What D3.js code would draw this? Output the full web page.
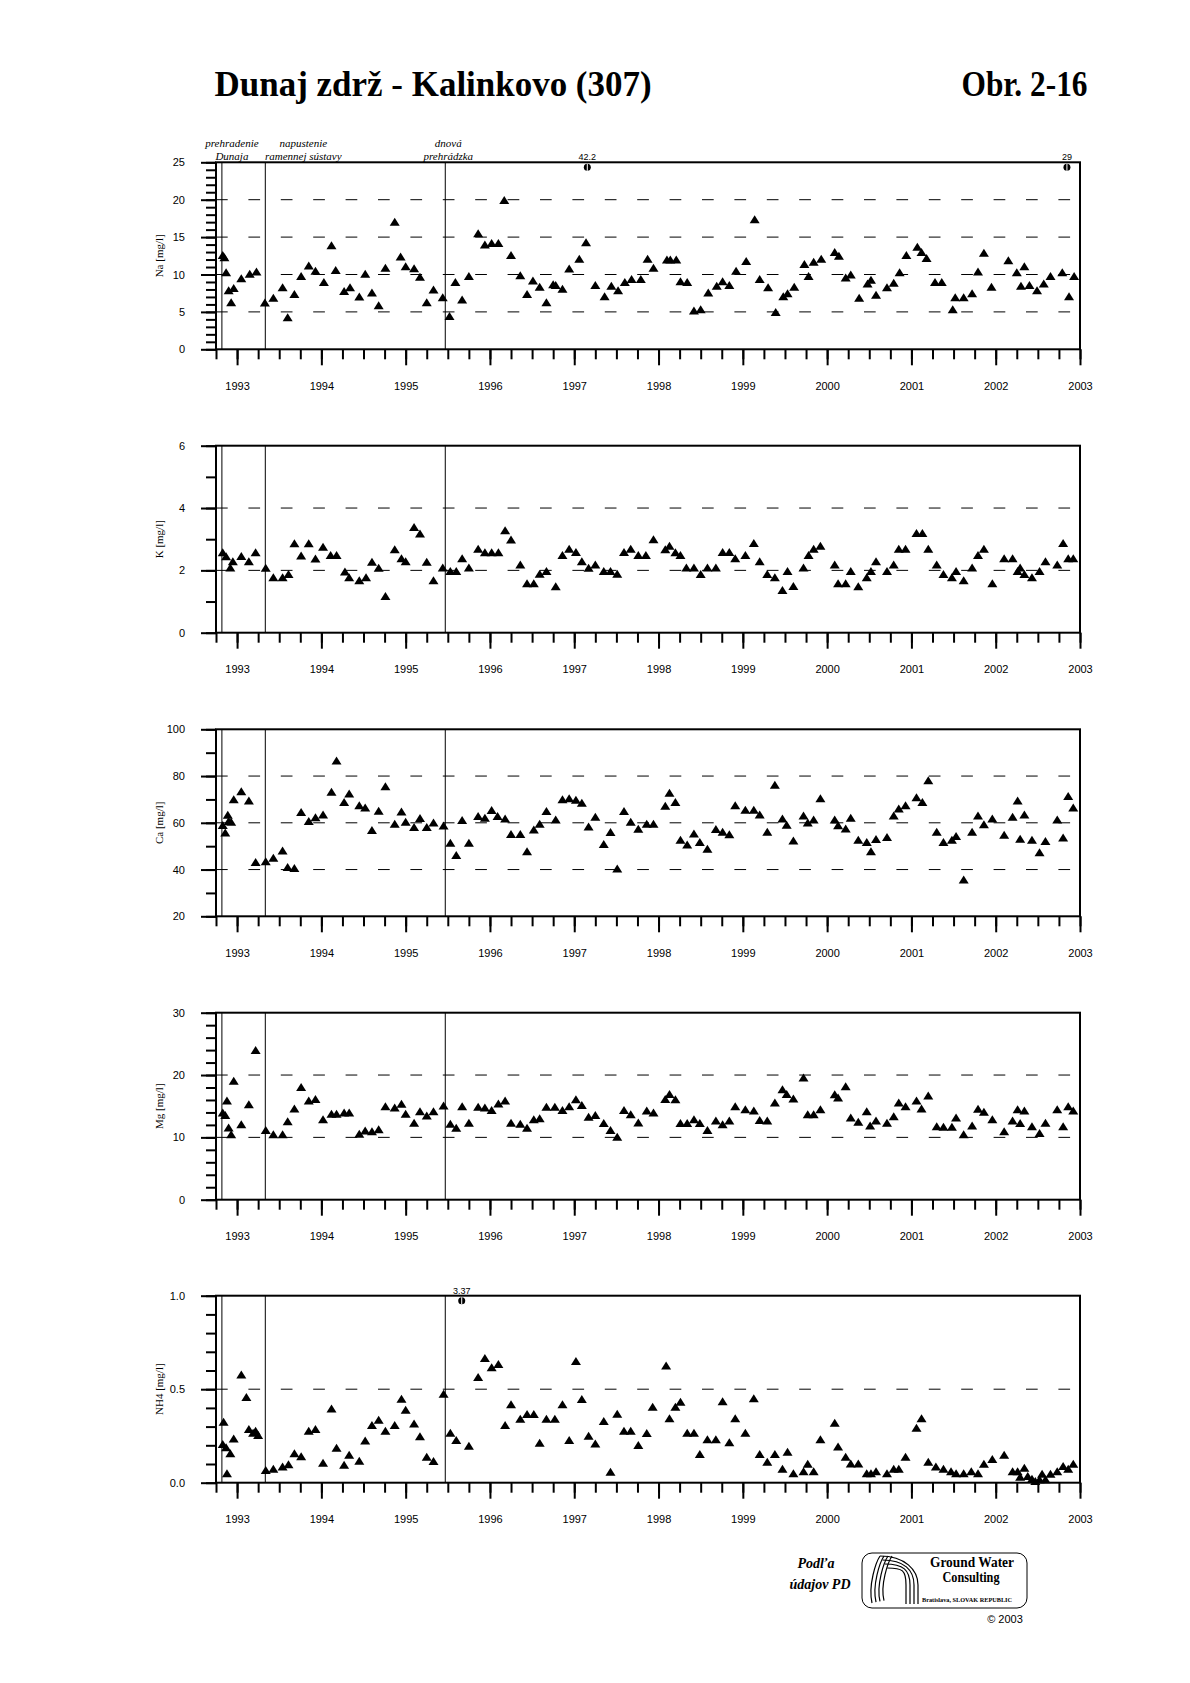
<!DOCTYPE html>
<html><head><meta charset="utf-8">
<script src="https://cdn.jsdelivr.net/npm/d3@7"></script>
<style>body{margin:0;background:#fff}</style>
</head><body><svg id="c" width="1190" height="1683"></svg>
<script>
// ---------- DATA (decimal year, value) ----------
const naData = [[1992.83,12.6],[1992.85,12.3],[1992.87,10.3],[1992.90,7.9],[1992.93,6.3],[1992.96,8.2],[1993.05,9.5],[1993.15,10.1],[1993.23,10.4],[1993.33,6.25],[1993.43,6.9],[1993.54,8.3],[1993.60,4.3],[1993.68,7.4],[1993.76,9.8],[1993.85,11.2],[1993.93,10.5],[1994.03,9.0],[1994.12,13.9],[1994.17,10.6],[1994.27,7.8],[1994.34,8.3],[1994.45,7.05],[1994.52,10.1],[1994.60,7.6],[1994.68,5.9],[1994.76,10.9],[1994.87,17.05],[1994.94,12.4],[1995.00,11.1],[1995.10,10.85],[1995.17,9.7],[1995.25,6.3],[1995.33,8.0],[1995.44,6.96],[1995.52,4.46],[1995.59,9.0],[1995.67,6.65],[1995.75,9.8],[1995.86,15.5],[1995.94,14.0],[1996.02,14.2],[1996.10,14.2],[1996.17,19.95],[1996.25,12.6],[1996.36,9.9],[1996.44,7.4],[1996.51,9.2],[1996.59,8.35],[1996.67,6.3],[1996.75,8.7],[1996.78,8.6],[1996.86,8.1],[1996.94,10.8],[1997.06,12.1],[1997.14,14.3],[1997.25,8.6],[1997.36,7.1],[1997.44,8.5],[1997.52,7.9],[1997.60,9.0],[1997.68,9.4],[1997.79,9.4],[1997.87,12.1],[1997.94,10.9],[1998.10,12.0],[1998.14,12.0],[1998.21,12.0],[1998.26,9.1],[1998.34,9.0],[1998.42,5.2],[1998.50,5.36],[1998.59,7.6],[1998.69,8.5],[1998.76,9.1],[1998.84,8.6],[1998.92,10.5],[1999.04,11.8],[1999.14,17.4],[1999.20,9.4],[1999.30,8.3],[1999.39,5.0],[1999.48,7.1],[1999.53,7.5],[1999.61,8.35],[1999.73,11.4],[1999.78,9.8],[1999.84,11.7],[1999.93,12.1],[2000.09,13.0],[2000.14,12.5],[2000.22,9.6],[2000.28,10.0],[2000.38,6.9],[2000.48,8.8],[2000.52,9.3],[2000.58,7.3],[2000.71,8.3],[2000.79,8.9],[2000.86,10.3],[2000.94,12.6],[2001.07,13.7],[2001.12,13.0],[2001.18,12.2],[2001.28,9.0],[2001.36,9.0],[2001.49,5.36],[2001.52,6.96],[2001.62,6.96],[2001.72,7.5],[2001.79,10.4],[2001.86,12.9],[2001.95,8.35],[2002.15,11.9],[2002.25,10.3],[2002.30,8.5],[2002.34,11.1],[2002.40,8.6],[2002.49,7.9],[2002.57,8.8],[2002.65,9.8],[2002.79,10.3],[2002.87,7.1],[2002.93,9.8]];
const naOutliers = [[1997.155,42.2],[2002.845,29]];

const kData = [[1992.83,2.58],[1992.87,2.45],[1992.92,2.09],[1992.95,2.29],[1993.05,2.46],[1993.14,2.29],[1993.22,2.58],[1993.34,2.08],[1993.43,1.78],[1993.54,1.78],[1993.61,1.88],[1993.68,2.87],[1993.76,2.48],[1993.85,2.87],[1993.93,2.38],[1994.02,2.76],[1994.11,2.49],[1994.18,2.49],[1994.28,1.96],[1994.33,1.78],[1994.45,1.68],[1994.53,1.78],[1994.60,2.28],[1994.68,2.08],[1994.76,1.18],[1994.87,2.68],[1994.95,2.39],[1995.00,2.29],[1995.10,3.39],[1995.17,3.18],[1995.25,2.28],[1995.33,1.68],[1995.44,2.09],[1995.53,1.98],[1995.60,1.98],[1995.67,2.39],[1995.75,2.09],[1995.86,2.69],[1995.94,2.58],[1996.02,2.58],[1996.10,2.58],[1996.18,3.29],[1996.25,2.99],[1996.36,2.19],[1996.44,1.59],[1996.52,1.59],[1996.59,1.89],[1996.67,1.98],[1996.78,1.49],[1996.86,2.49],[1996.94,2.69],[1997.02,2.59],[1997.09,2.29],[1997.17,2.08],[1997.25,2.19],[1997.35,1.98],[1997.43,1.98],[1997.51,1.89],[1997.59,2.59],[1997.67,2.69],[1997.76,2.49],[1997.85,2.49],[1997.94,3.0],[1998.08,2.68],[1998.13,2.79],[1998.20,2.58],[1998.26,2.49],[1998.33,2.09],[1998.42,2.09],[1998.50,1.88],[1998.58,2.09],[1998.68,2.09],[1998.76,2.59],[1998.84,2.59],[1998.91,2.39],[1999.03,2.49],[1999.13,2.88],[1999.20,2.29],[1999.29,1.88],[1999.38,1.78],[1999.47,1.37],[1999.53,1.98],[1999.60,1.5],[1999.72,2.09],[1999.78,2.49],[1999.84,2.69],[1999.92,2.79],[2000.09,2.19],[2000.13,1.59],[2000.22,1.59],[2000.28,1.98],[2000.37,1.49],[2000.47,1.78],[2000.52,1.98],[2000.58,2.29],[2000.71,1.98],[2000.79,2.19],[2000.85,2.69],[2000.93,2.69],[2001.06,3.2],[2001.13,3.2],[2001.20,2.69],[2001.30,2.19],[2001.38,1.88],[2001.48,1.78],[2001.53,1.98],[2001.62,1.68],[2001.72,2.09],[2001.79,2.49],[2001.86,2.69],[2001.96,1.59],[2002.10,2.39],[2002.20,2.39],[2002.26,1.98],[2002.29,2.09],[2002.34,1.88],[2002.43,1.78],[2002.52,1.98],[2002.59,2.29],[2002.73,2.19],[2002.80,2.88],[2002.86,2.39],[2002.92,2.39]];

const caData = [[1992.83,59.1],[1992.86,55.8],[1992.89,63.4],[1992.90,60.8],[1992.93,60.5],[1992.96,70.1],[1993.05,73.5],[1993.14,69.5],[1993.22,43.2],[1993.34,43.5],[1993.43,45.1],[1993.54,48.1],[1993.60,41.1],[1993.68,40.7],[1993.76,64.6],[1993.85,60.8],[1993.93,62.4],[1994.02,63.5],[1994.12,73.3],[1994.18,86.6],[1994.27,68.9],[1994.33,72.5],[1994.45,67.5],[1994.52,66.5],[1994.60,56.9],[1994.68,65.2],[1994.76,75.6],[1994.87,59.6],[1994.95,64.8],[1995.00,60.5],[1995.10,58.2],[1995.17,62.1],[1995.25,58.2],[1995.33,60.1],[1995.45,58.8],[1995.53,51.5],[1995.60,46.2],[1995.67,61.2],[1995.75,51.5],[1995.86,62.9],[1995.94,62.2],[1996.02,65.5],[1996.09,62.9],[1996.18,61.8],[1996.25,55.2],[1996.36,55.2],[1996.44,47.8],[1996.52,57.1],[1996.59,59.6],[1996.67,65.1],[1996.78,61.4],[1996.86,70.1],[1996.94,70.5],[1997.02,69.9],[1997.09,68.6],[1997.17,58.4],[1997.25,62.6],[1997.35,50.9],[1997.43,56.1],[1997.51,40.4],[1997.59,65.1],[1997.67,60.5],[1997.76,57.5],[1997.86,59.6],[1997.94,59.6],[1998.08,67.3],[1998.13,72.9],[1998.20,68.9],[1998.26,52.7],[1998.34,50.7],[1998.42,55.4],[1998.49,51.8],[1998.58,48.9],[1998.68,57.4],[1998.76,56.2],[1998.84,55.1],[1998.91,67.5],[1999.03,65.6],[1999.13,65.6],[1999.20,63.6],[1999.29,56.2],[1999.38,76.3],[1999.47,61.8],[1999.52,59.2],[1999.60,52.4],[1999.72,63.1],[1999.77,60.1],[1999.84,61.4],[1999.92,70.5],[2000.09,61.4],[2000.13,58.9],[2000.22,57.6],[2000.28,62.2],[2000.37,52.7],[2000.47,51.8],[2000.52,47.8],[2000.58,53.1],[2000.71,53.9],[2000.79,63.1],[2000.85,66.1],[2000.93,67.5],[2001.06,70.9],[2001.13,68.9],[2001.20,78.2],[2001.30,56.2],[2001.38,51.8],[2001.48,52.7],[2001.53,54.4],[2001.62,35.7],[2001.72,56.2],[2001.79,63.1],[2001.86,59.4],[2001.96,61.8],[2002.10,54.9],[2002.20,62.6],[2002.26,69.5],[2002.29,53.2],[2002.34,63.6],[2002.43,52.7],[2002.52,47.4],[2002.59,52.2],[2002.73,61.4],[2002.80,53.7],[2002.86,71.5],[2002.92,66.5]];

const mgData = [[1992.83,14.0],[1992.86,13.6],[1992.88,15.9],[1992.90,11.6],[1992.93,10.5],[1992.96,19.1],[1993.05,12.1],[1993.14,15.3],[1993.22,24.0],[1993.34,11.2],[1993.43,10.5],[1993.54,10.5],[1993.60,12.6],[1993.68,14.65],[1993.76,18.1],[1993.85,15.9],[1993.93,16.15],[1994.02,12.9],[1994.12,13.8],[1994.18,13.8],[1994.27,14.0],[1994.33,14.0],[1994.45,10.6],[1994.52,11.1],[1994.60,11.0],[1994.68,11.3],[1994.76,15.0],[1994.87,14.8],[1994.95,15.4],[1995.00,13.8],[1995.10,12.35],[1995.17,14.2],[1995.25,13.5],[1995.33,14.2],[1995.45,15.1],[1995.53,12.2],[1995.60,11.55],[1995.67,15.0],[1995.75,12.35],[1995.86,14.9],[1995.94,14.8],[1996.02,14.4],[1996.10,15.45],[1996.18,15.9],[1996.25,12.35],[1996.36,12.2],[1996.44,11.55],[1996.52,12.9],[1996.59,13.05],[1996.67,14.9],[1996.77,14.9],[1996.86,14.4],[1996.94,15.0],[1997.02,16.1],[1997.09,15.2],[1997.17,13.3],[1997.25,13.6],[1997.35,12.3],[1997.43,11.2],[1997.51,10.1],[1997.59,14.4],[1997.67,13.7],[1997.76,12.4],[1997.86,14.3],[1997.94,14.0],[1998.08,16.15],[1998.13,16.95],[1998.20,16.1],[1998.26,12.3],[1998.34,12.3],[1998.42,12.9],[1998.49,12.3],[1998.58,11.2],[1998.68,12.7],[1998.76,12.1],[1998.84,12.7],[1998.91,15.0],[1999.03,14.5],[1999.13,14.3],[1999.20,12.8],[1999.29,12.7],[1999.38,15.6],[1999.47,17.7],[1999.52,16.95],[1999.60,16.25],[1999.72,19.6],[1999.77,13.7],[1999.84,13.7],[1999.92,14.5],[2000.09,16.9],[2000.13,16.4],[2000.22,18.2],[2000.28,13.2],[2000.37,12.5],[2000.47,14.2],[2000.51,11.9],[2000.58,12.7],[2000.71,12.35],[2000.79,13.4],[2000.85,15.6],[2000.93,15.0],[2001.06,15.9],[2001.12,14.65],[2001.20,16.7],[2001.30,11.8],[2001.38,11.7],[2001.48,11.7],[2001.53,13.2],[2001.62,10.5],[2001.72,11.9],[2001.79,14.6],[2001.86,14.1],[2001.96,12.9],[2002.10,11.0],[2002.20,12.7],[2002.26,14.5],[2002.29,12.3],[2002.34,14.3],[2002.43,11.8],[2002.52,10.7],[2002.59,12.35],[2002.73,14.5],[2002.80,11.8],[2002.86,15.0],[2002.92,14.3]];

const nh4Data = [[1992.83,0.207],[1992.84,0.326],[1992.87,0.189],[1992.88,0.05],[1992.92,0.157],[1992.96,0.237],[1993.05,0.578],[1993.11,0.458],[1993.14,0.287],[1993.19,0.267],[1993.22,0.278],[1993.25,0.255],[1993.34,0.068],[1993.43,0.075],[1993.54,0.087],[1993.61,0.098],[1993.68,0.157],[1993.76,0.141],[1993.85,0.278],[1993.93,0.287],[1994.02,0.107],[1994.12,0.397],[1994.18,0.187],[1994.27,0.096],[1994.33,0.15],[1994.45,0.118],[1994.52,0.226],[1994.60,0.308],[1994.68,0.337],[1994.76,0.278],[1994.87,0.308],[1994.95,0.449],[1995.00,0.39],[1995.10,0.316],[1995.17,0.248],[1995.25,0.139],[1995.33,0.116],[1995.45,0.476],[1995.53,0.267],[1995.60,0.228],[1995.75,0.198],[1995.86,0.565],[1995.94,0.667],[1996.02,0.617],[1996.10,0.635],[1996.18,0.308],[1996.25,0.419],[1996.36,0.342],[1996.44,0.367],[1996.52,0.367],[1996.59,0.214],[1996.67,0.342],[1996.77,0.342],[1996.86,0.419],[1996.94,0.228],[1997.02,0.651],[1997.09,0.447],[1997.17,0.251],[1997.25,0.21],[1997.35,0.33],[1997.43,0.059],[1997.51,0.369],[1997.59,0.278],[1997.67,0.278],[1997.76,0.201],[1997.86,0.266],[1997.93,0.406],[1998.09,0.627],[1998.13,0.344],[1998.20,0.406],[1998.26,0.433],[1998.34,0.267],[1998.42,0.267],[1998.49,0.153],[1998.58,0.232],[1998.68,0.232],[1998.76,0.435],[1998.84,0.216],[1998.91,0.344],[1999.03,0.267],[1999.13,0.451],[1999.20,0.153],[1999.29,0.112],[1999.38,0.153],[1999.47,0.075],[1999.53,0.166],[1999.60,0.05],[1999.72,0.061],[1999.77,0.102],[1999.84,0.061],[1999.92,0.232],[2000.09,0.321],[2000.13,0.193],[2000.22,0.139],[2000.28,0.103],[2000.37,0.103],[2000.47,0.05],[2000.52,0.05],[2000.58,0.061],[2000.71,0.05],[2000.79,0.075],[2000.85,0.075],[2000.93,0.139],[2001.06,0.294],[2001.12,0.344],[2001.20,0.112],[2001.29,0.087],[2001.38,0.075],[2001.47,0.061],[2001.53,0.05],[2001.62,0.05],[2001.71,0.061],[2001.79,0.05],[2001.86,0.102],[2001.96,0.127],[2002.10,0.15],[2002.20,0.061],[2002.26,0.061],[2002.29,0.032],[2002.34,0.08],[2002.38,0.036],[2002.43,0.021],[2002.47,0.009],[2002.52,0.018],[2002.55,0.048],[2002.59,0.018],[2002.65,0.048],[2002.73,0.061],[2002.80,0.089],[2002.86,0.075],[2002.92,0.102]];
const nh4Outliers = [[1995.665,3.37]];

const yearTicks = [1993,1994,1995,1996,1997,1998,1999,2000,2001,2002,2003];
const events = [
  {date:1992.82, lines:["prehradenie","Dunaja"], dx:10},
  {date:1993.335, lines:["napustenie","ramennej sústavy"], dx:38},
  {date:1995.47, lines:["dnová","prehrádzka"], dx:3}
];
const panelLabels = ["Na [mg/l]","K [mg/l]","Ca [mg/l]","Mg [mg/l]","NH4 [mg/l]"];
const panelDomains = [[0,25],[0,6],[20,100],[0,30],[0,1]];
const panelMajor = [[0,5,10,15,20,25],[0,2,4,6],[20,40,60,80,100],[0,10,20,30],[0,0.5,1]];
const panelMinorStep = [1,1,10,2,0.1];
const panelGrid = [[5,10,15,20],[2,4],[40,60,80],[10,20],[0.5]];

// ---------- DRAW ----------
const svg = d3.select('#c');
svg.append('rect').attr('width',1190).attr('height',1683).attr('fill','#fff');

const xL = 216, xR = 1080, pH = 187;
const tops = [162.3, 445.7, 729.3, 1012.7, 1295.7];
const x = d3.scaleLinear().domain([1992.75, 2003]).range([xL, xR]);
const quarterTicks = d3.range(0, 42).map(i => 1992.75 + i*0.25);

const tri = {draw(ctx){ ctx.moveTo(0,-4); ctx.lineTo(5,4); ctx.lineTo(-5,4); ctx.closePath(); }};
const triPath = d3.symbol(tri)();

const datasets = [naData,kData,caData,mgData,nh4Data];
const outliers = [naOutliers,[],[],[],nh4Outliers];

datasets.forEach((data, i) => {
  const top = tops[i], bot = top + pH;
  const [d0,d1] = panelDomains[i];
  const y = d3.scaleLinear().domain([d0,d1]).range([bot, top]);
  const g = svg.append('g');
  const fmt = i===4 ? d3.format('.1f') : d3.format('d');

  // dashed grid
  g.selectAll('line.grid').data(panelGrid[i]).join('line')
    .attr('x1', xL).attr('x2', xR).attr('y1', d=>y(d)).attr('y2', d=>y(d))
    .attr('stroke','#000').attr('stroke-width',1).attr('stroke-dasharray','11.7,20.7');

  // event lines
  g.selectAll('line.ev').data(events).join('line')
    .attr('x1', d=>x(d.date)).attr('x2', d=>x(d.date)).attr('y1', top).attr('y2', bot)
    .attr('stroke','#000').attr('stroke-width',1);

  // y axis minor
  const minorVals = d3.range(0, Math.round((d1-d0)/panelMinorStep[i])+1).map(k => d0 + k*panelMinorStep[i]);
  const gyMinor = g.append('g').attr('transform',`translate(${xL},0)`)
    .call(d3.axisLeft(y).tickValues(minorVals).tickSize(10).tickSizeOuter(0).tickFormat(''));
  const gyMajor = g.append('g').attr('transform',`translate(${xL},0)`)
    .call(d3.axisLeft(y).tickValues(panelMajor[i]).tickSize(15).tickSizeOuter(0).tickPadding(16).tickFormat(fmt));
  [gyMinor, gyMajor].forEach(a => {
    a.selectAll('.domain').remove();
    a.selectAll('.tick line').attr('stroke-width',2);
  });
  gyMajor.selectAll('.tick text').attr('font-family','Liberation Sans, Arial, sans-serif').attr('font-size',11).attr('fill','#000');

  // x axis
  const gxMinor = g.append('g').attr('transform',`translate(0,${bot})`)
    .call(d3.axisBottom(x).tickValues(quarterTicks).tickSize(10).tickSizeOuter(0).tickFormat(''));
  const gxMajor = g.append('g').attr('transform',`translate(0,${bot})`)
    .call(d3.axisBottom(x).tickValues(yearTicks).tickSize(16).tickSizeOuter(0).tickPadding(17).tickFormat(d3.format('d')));
  [gxMinor, gxMajor].forEach(a => {
    a.selectAll('.domain').remove();
    a.selectAll('.tick line').attr('stroke-width',2);
  });
  gxMajor.selectAll('.tick text').attr('font-family','Liberation Sans, Arial, sans-serif').attr('font-size',11).attr('fill','#000');

  // frame
  g.append('rect').attr('x',xL).attr('y',top).attr('width',xR-xL).attr('height',pH)
    .attr('fill','none').attr('stroke','#000').attr('stroke-width',2);

  // y label
  g.append('text').attr('transform',`translate(163,${top+pH/2}) rotate(-90)`)
    .attr('text-anchor','middle').attr('font-family','Liberation Serif, Times New Roman, serif')
    .attr('font-size',11).text(panelLabels[i]);

  // points
  g.selectAll('path.pt').data(data).join('path')
    .attr('d', triPath)
    .attr('transform', d => `translate(${x(d[0])},${y(d[1])})`)
    .attr('fill','#000');

  // outliers (off-scale values)
  const og = g.selectAll('g.out').data(outliers[i]).join('g')
    .attr('transform', d => `translate(${x(d[0])},${top+5})`);
  og.append('ellipse').attr('rx',3.5).attr('ry',3.5).attr('fill','#000');
  og.append('line').attr('x1',0).attr('x2',0).attr('y1',-3.5).attr('y2',3.5).attr('stroke','#fff').attr('stroke-width',1);
  og.append('text').attr('y',-7).attr('text-anchor','middle')
    .attr('font-family','Liberation Sans, Arial, sans-serif').attr('font-size',9).text(d => d[1]);

  // event annotations above first panel
  if (i === 0) {
    events.forEach(ev => {
      ev.lines.forEach((t, k) => {
        g.append('text').attr('x', x(ev.date)+ev.dx).attr('y', 147 + k*13)
          .attr('text-anchor','middle').attr('font-family','Liberation Serif, Times New Roman, serif')
          .attr('font-style','italic').attr('font-size',11).text(t);
      });
    });
  }
});

// title
svg.append('text').attr('x',214.6).attr('y',96).attr('font-family','Liberation Serif, Times New Roman, serif')
  .attr('font-weight','bold').attr('font-size',36).attr('textLength',437).attr('lengthAdjust','spacingAndGlyphs')
  .text('Dunaj zdrž - Kalinkovo (307)');
svg.append('text').attr('x',961.5).attr('y',96).attr('font-family','Liberation Serif, Times New Roman, serif')
  .attr('font-weight','bold').attr('font-size',36).attr('textLength',126).attr('lengthAdjust','spacingAndGlyphs')
  .text('Obr. 2-16');

// footer
const f = svg.append('g').attr('font-family','Liberation Serif, Times New Roman, serif');
f.append('text').attr('x',816).attr('y',1568).attr('text-anchor','middle').attr('font-style','italic').attr('font-weight','bold').attr('font-size',14).text('Podľa');
f.append('text').attr('x',820).attr('y',1589).attr('text-anchor','middle').attr('font-style','italic').attr('font-weight','bold').attr('font-size',14).text('údajov PD');
f.append('rect').attr('x',862).attr('y',1553).attr('width',165).attr('height',55).attr('rx',10).attr('fill','none').attr('stroke','#000').attr('stroke-width',1);
// logo swirl
const lg = f.append('g').attr('fill','none').attr('stroke','#000').attr('stroke-width',1.2);
[0,4,8,12].forEach(o => {
  lg.append('path').attr('d', `M${872+o},${1603-o*0.2} C${868+o},${1585} ${876+o},${1562} ${880+o},${1556}`);
  lg.append('path').attr('d', `M${880+o*0.6},${1556+o} C${905-o*0.2},${1556+o} ${918-o},${1570} ${918-o},${1585} L${918-o},${1604}`);
});
f.append('text').attr('x',972).attr('y',1567).attr('text-anchor','middle').attr('font-weight','bold').attr('font-size',14).attr('textLength',84).attr('lengthAdjust','spacingAndGlyphs').text('Ground Water');
f.append('text').attr('x',971).attr('y',1582).attr('text-anchor','middle').attr('font-weight','bold').attr('font-size',14).attr('textLength',57).attr('lengthAdjust','spacingAndGlyphs').text('Consulting');
f.append('text').attr('x',967).attr('y',1602).attr('text-anchor','middle').attr('font-weight','bold').attr('font-size',6).attr('textLength',90).attr('lengthAdjust','spacingAndGlyphs').text('Bratislava, SLOVAK REPUBLIC');
f.append('text').attr('x',1005).attr('y',1623).attr('text-anchor','middle').attr('font-family','Liberation Sans, Arial, sans-serif').attr('font-size',11).text('© 2003');
</script></body></html>
